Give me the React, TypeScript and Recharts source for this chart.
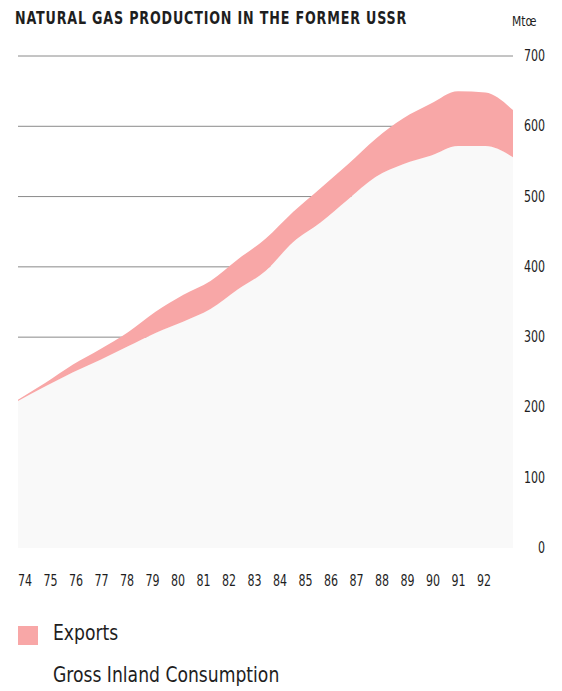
import React from 'react';
import { AreaChart, Area, XAxis, YAxis, CartesianGrid } from 'recharts';

const years = [74, 75, 76, 77, 78, 79, 80, 81, 82, 83, 84, 85, 86, 87, 88, 89, 90, 91, 92];
// Mtoe
const consumption = [209, 230, 250, 268, 287, 306, 322, 340, 368, 394, 435, 463, 496, 528, 546, 558, 572, 572, 556];
const exportsGas = [2, 5, 11, 15, 20, 30, 38, 40, 43, 46, 43, 49, 50, 54, 65, 74, 78, 76, 67];
const yTicks = [0, 100, 200, 300, 400, 500, 600, 700];
const gridValues = [100, 200, 300, 400, 500, 600, 700];

const data = years.map((year, i) => ({
  year,
  consumption: consumption[i],
  exports: exportsGas[i],
}));

const font = "'DejaVu Sans Condensed', 'Liberation Sans Narrow', 'DejaVu Sans', sans-serif";
const pink = '#f8a7a7';
const ink = '#1e1e1e';

// condensed digits: squeeze horizontally
const YTick = (props: any) => {
  const { y, payload } = props;
  return (
    <text transform={`translate(545,${y}) scale(0.82,1)`} dy={5} textAnchor="end" fill={ink} fontSize={15} fontFamily={font}>
      {payload.value}
    </text>
  );
};

const XTick = (props: any) => {
  const { x, payload } = props;
  return (
    <text transform={`translate(${x},586) scale(0.82,1)`} textAnchor="middle" fill={ink} fontSize={15} fontFamily={font}>
      {payload.value}
    </text>
  );
};

const squeeze = (s: number): React.CSSProperties => ({
  transform: `scaleX(${s})`,
  transformOrigin: 'left top',
  whiteSpace: 'nowrap',
});

const App: React.FC = () => {
  return (
    <div style={{ position: 'absolute', left: 0, top: 0, width: 562, height: 691, background: '#fff', fontFamily: font }}>
      <div style={{ position: 'absolute', left: 15, top: 8, fontSize: 17, fontWeight: 'bold', letterSpacing: 1, color: ink, ...squeeze(0.83) }}>
        NATURAL GAS PRODUCTION IN THE FORMER USSR
      </div>
      <div style={{ position: 'absolute', left: 512, top: 13, fontSize: 14, color: ink, ...squeeze(0.85) }}>Mtœ</div>

      <AreaChart width={562} height={691} data={data} margin={{ top: 56, right: 0, bottom: 113, left: 18 }}>
        <CartesianGrid horizontal vertical={false} horizontalValues={gridValues} stroke="#8a8a8a" strokeWidth={1} />
        <XAxis xAxisId="data" dataKey="year" type="number" domain={[74, 92]} padding={{ left: 0, right: 0 }} height={0} hide />
        <XAxis
          xAxisId="labels"
          dataKey="year"
          type="number"
          domain={[74, 92]}
          ticks={years}
          interval={0}
          padding={{ left: 7, right: 29 }}
          axisLine={false}
          tickLine={false}
          tick={<XTick />}
          height={30}
        />
        <YAxis
          orientation="right"
          domain={[0, 700]}
          ticks={yTicks}
          axisLine={false}
          tickLine={false}
          tick={<YTick />}
          width={49}
        />
        <Area
          xAxisId="data"
          type="monotone"
          dataKey="consumption"
          stackId="1"
          stroke="none"
          fill="#f9f9f9"
          fillOpacity={1}
          isAnimationActive={false}
        />
        <Area
          xAxisId="data"
          type="monotone"
          dataKey="exports"
          stackId="1"
          stroke="none"
          fill={pink}
          fillOpacity={1}
          isAnimationActive={false}
        />
      </AreaChart>

      <div style={{ position: 'absolute', left: 18, top: 626, width: 20, height: 19, background: pink }} />
      <div style={{ position: 'absolute', left: 53, top: 621, fontSize: 21, color: ink, ...squeeze(0.91) }}>Exports</div>
      <div style={{ position: 'absolute', left: 53, top: 663, fontSize: 21, color: ink, ...squeeze(0.91) }}>Gross Inland Consumption</div>
    </div>
  );
};

export default App;
